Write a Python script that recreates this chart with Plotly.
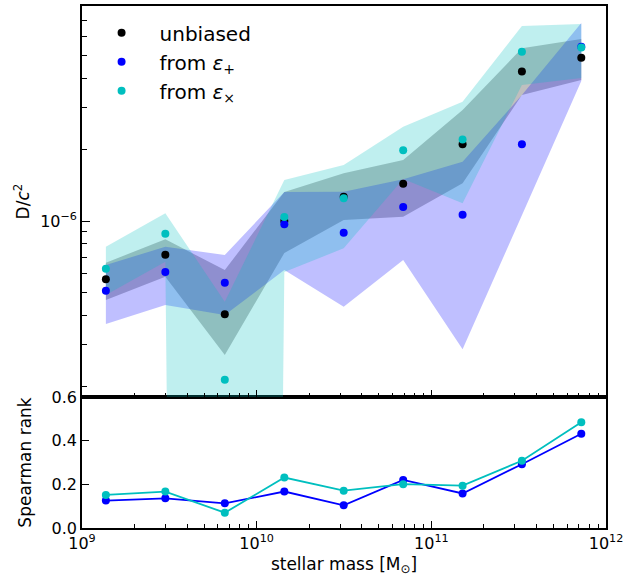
import plotly.graph_objects as go

# ---------------- data ----------------
stellar_mass = [1.37e9, 3.0e9, 6.57e9, 1.44e10, 3.15e10, 6.9e10, 1.51e11, 3.3e11, 7.22e11]

# D/c^2 (units of 1e-6)
d_unbiased = [0.568, 0.721, 0.404, 1.00, 1.266, 1.437, 2.107, 4.27, 4.89]
d_plus     = [0.508, 0.609, 0.549, 0.968, 0.893, 1.146, 1.063, 2.11, 5.44]
d_cross    = [0.629, 0.884, 0.214, 1.04, 1.247, 1.99, 2.21, 5.18, 5.39]

# band limits (units of 1e-6)
unb_hi   = [0.667, 0.837, 0.621, 1.326, 1.590, 1.809, 2.941, 5.355, 5.86]
unb_lo   = [0.464, 0.582, 0.272, 0.733, 1.010, 1.043, 1.442, 3.401, 3.935]
plus_hi  = [0.652, 0.779, 0.719, 1.326, 1.329, 1.500, 1.779, 3.401, 6.845]
plus_lo  = [0.3675, 0.442, 0.401, 0.621, 0.435, 0.685, 0.2874, 1.050, 3.896]
cross_hi = [0.779, 1.078, 0.4566, 1.489, 1.723, 2.500, 3.187, 6.649, 6.779]
# third value is non-positive in the source (falls off the log axis)
cross_lo = [0.4873, 0.6735, 1e-24, 0.609, 0.767, 1.504, 1.188, 3.749, 4.012]

# Spearman rank
spear_plus  = [0.1255, 0.136, 0.113, 0.167, 0.104, 0.220, 0.158, 0.292, 0.432]
spear_cross = [0.1515, 0.167, 0.070, 0.231, 0.171, 0.2005, 0.194, 0.308, 0.484]

x_tickvals = [1e9, 1e10, 1e11, 1e12]
x_ticktext = ["10<sup>9</sup>", "10<sup>10</sup>", "10<sup>11</sup>", "10<sup>12</sup>"]
y_tickvals = [1e-6]
y_ticktext = ["10<sup>−6</sup>"]
spear_ticks = [0.0, 0.2, 0.4, 0.6]
spear_ticktext = ["0.0", "0.2", "0.4", "0.6"]

scale = 1e-6
BLACK = "#000000"
BLUE = "#0000FF"
CYAN = "#00BFBF"
FONT = "DejaVu Sans"

def s(v):
    return [a * scale for a in v]

fig = go.Figure()

def band(lo, hi, rgba):
    fig.add_trace(go.Scatter(x=stellar_mass, y=s(lo), mode="lines", line=dict(width=0),
                             showlegend=False, hoverinfo="skip", xaxis="x2", yaxis="y2"))
    fig.add_trace(go.Scatter(x=stellar_mass, y=s(hi), mode="lines", line=dict(width=0),
                             fill="tonexty", fillcolor=rgba, showlegend=False,
                             hoverinfo="skip", xaxis="x2", yaxis="y2"))

band(unb_lo, unb_hi, "rgba(0,0,0,0.25)")
band(plus_lo, plus_hi, "rgba(0,0,255,0.25)")
band(cross_lo, cross_hi, "rgba(0,191,191,0.25)")

fig.add_trace(go.Scatter(x=stellar_mass, y=s(d_unbiased), mode="markers", name="unbiased",
                         marker=dict(color=BLACK, size=8), xaxis="x2", yaxis="y2",
                         legendgroup="a"))
fig.add_trace(go.Scatter(x=stellar_mass, y=s(d_plus), mode="markers",
                         name="from <i>ε</i><sub>+</sub>",
                         marker=dict(color=BLUE, size=8), xaxis="x2", yaxis="y2",
                         legendgroup="b"))
fig.add_trace(go.Scatter(x=stellar_mass, y=s(d_cross), mode="markers",
                         name="from <i>ε</i><sub>×</sub>",
                         marker=dict(color=CYAN, size=8), xaxis="x2", yaxis="y2",
                         legendgroup="c"))

# bottom panel
fig.add_trace(go.Scatter(x=stellar_mass, y=spear_plus, mode="lines+markers",
                         line=dict(color=BLUE, width=1.8), marker=dict(color=BLUE, size=8),
                         showlegend=False, xaxis="x", yaxis="y"))
fig.add_trace(go.Scatter(x=stellar_mass, y=spear_cross, mode="lines+markers",
                         line=dict(color=CYAN, width=1.8), marker=dict(color=CYAN, size=8),
                         showlegend=False, xaxis="x", yaxis="y"))

minor_x = [m * 10 ** e for e in (9, 10, 11) for m in range(2, 10)]
minor_y = [m * 1e-7 for m in range(2, 10)] + [m * 1e-6 for m in range(2, 9)]

axis_common = dict(showline=True, linecolor="black", linewidth=1.6, mirror=True,
                   ticks="inside", tickcolor="black", tickwidth=1.3, showgrid=False,
                   zeroline=False, tickfont=dict(family=FONT, size=16, color="black"))

split = 131 / 522

fig.update_layout(
    width=627, height=578,
    margin=dict(l=82, r=21, t=6, b=50, autoexpand=False),
    paper_bgcolor="white", plot_bgcolor="white",
    font=dict(family=FONT, color="black"),
    xaxis=dict(type="log", range=[9, 12], domain=[0, 1], anchor="y",
               tickvals=x_tickvals, ticktext=x_ticktext, ticklen=7,
               minor=dict(tickvals=minor_x, ticks="inside", ticklen=4, tickwidth=1.1,
                          tickcolor="black"),
               title=dict(text="stellar mass [M<sub>⊙</sub>]",
                          font=dict(family=FONT, size=17), standoff=6),
               **axis_common),
    yaxis=dict(range=[0, 0.6], domain=[0, split], anchor="x",
               tickvals=spear_ticks, ticktext=spear_ticktext, ticklen=7,
               title=dict(text="Spearman rank", font=dict(family=FONT, size=17), standoff=16),
               **axis_common),
    xaxis2=dict(type="log", range=[9, 12], domain=[0, 1], anchor="y2", matches="x",
                tickvals=x_tickvals, showticklabels=False, ticklen=7,
                minor=dict(tickvals=minor_x, ticks="inside", ticklen=4, tickwidth=1.1,
                           tickcolor="black"),
                **axis_common),
    yaxis2=dict(type="log", range=[-6.7426, -5.0928], domain=[split, 1], anchor="x2",
                tickvals=y_tickvals, ticktext=y_ticktext, ticklen=8,
                minor=dict(tickvals=minor_y, ticks="inside", ticklen=5, tickwidth=1.1,
                           tickcolor="black"),
                title=dict(text="D/<i>c</i><sup>2</sup>", font=dict(family=FONT, size=17),
                           standoff=6),
                **axis_common),
    legend=dict(x=0.003, y=0.986, xanchor="left", yanchor="top",
                bgcolor="rgba(0,0,0,0)", font=dict(family=FONT, size=20),
                tracegroupgap=0, traceorder="grouped", itemwidth=66),
    showlegend=True,
)

fig.write_html("out.html", config={"displayModeBar": False},
               post_script="document.body.style.margin='0';")
